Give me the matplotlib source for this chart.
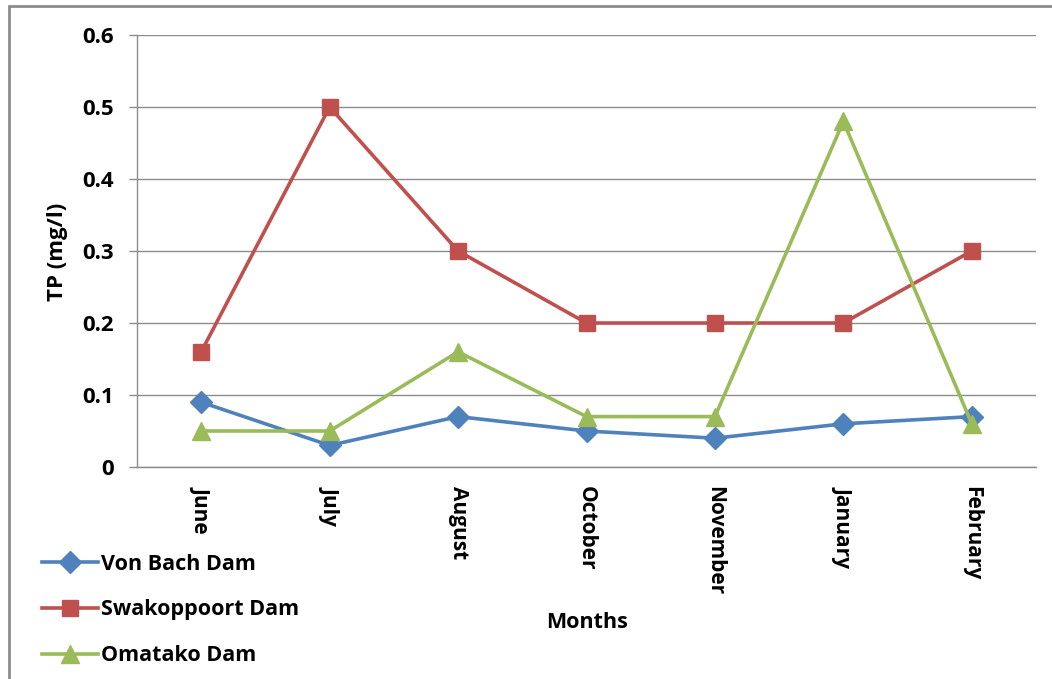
import matplotlib
matplotlib.use("Agg")
import matplotlib.pyplot as plt
from matplotlib.patches import Rectangle

months = ["June", "July", "August", "October", "November", "January", "February"]
von_bach = [0.09, 0.03, 0.07, 0.05, 0.04, 0.06, 0.07]
swakoppoort = [0.16, 0.50, 0.30, 0.20, 0.20, 0.20, 0.30]
omatako = [0.05, 0.05, 0.16, 0.07, 0.07, 0.48, 0.06]
y_ticks = [0, 0.1, 0.2, 0.3, 0.4, 0.5, 0.6]
y_tick_labels = ["0", "0.1", "0.2", "0.3", "0.4", "0.5", "0.6"]

plt.rcParams["font.family"] = ["Open Sans", "DejaVu Sans"]
plt.rcParams["font.weight"] = "bold"

W, H = 1052, 679
fig = plt.figure(figsize=(W / 100, H / 100), dpi=100)
fig.patch.set_facecolor("white")

# outer chart frame
fig.add_artist(Rectangle((9 / W, -0.01), 1.05, 1 - 6 / H + 0.01,
                         transform=fig.transFigure, fill=False,
                         edgecolor="#8c8c8c", linewidth=2))

ax = fig.add_axes([137 / W, 1 - 467 / H, (1036 - 137) / W, (467 - 35) / H])
x = list(range(len(months)))

series = [
    (von_bach, "Von Bach Dam", "#4F81BD", "D", 11),
    (swakoppoort, "Swakoppoort Dam", "#C0504D", "s", 12),
    (omatako, "Omatako Dam", "#9BBB59", "^", 13),
]
handles = []
for vals, name, color, marker, ms in series:
    h, = ax.plot(x, vals, color=color, linewidth=2.6, marker=marker,
                 markersize=ms, markerfacecolor=color, markeredgecolor=color,
                 label=name, zorder=3, clip_on=False)
    handles.append(h)

ax.set_xlim(-0.5, len(months) - 0.5)
ax.set_ylim(0, 0.6)
ax.set_yticks(y_ticks)
ax.set_yticklabels(y_tick_labels, fontsize=16, fontweight="bold")
ax.set_xticks(x)
ax.set_xticklabels(months, rotation=-90, fontsize=15, fontweight="bold",
                   va="top", ha="center")
ax.tick_params(axis="x", length=0, pad=14)
ax.tick_params(axis="y", length=6, width=1, color="#8c8c8c", pad=11)
ax.grid(axis="y", color="#8c8c8c", linewidth=1)
ax.set_axisbelow(True)
for side in ["top", "right"]:
    ax.spines[side].set_visible(False)
for side in ["left", "bottom"]:
    ax.spines[side].set_color("#8c8c8c")
    ax.spines[side].set_linewidth(1)

fig.text(58 / W, 1 - 252 / H, "TP (mg/l)", rotation=90, ha="center",
         va="center", fontsize=16, fontweight="bold")
fig.text(587 / W, 1 - 622 / H, "Months", ha="center", va="center",
         fontsize=15.5, fontweight="bold")

leg = fig.legend(handles=handles, loc="upper left",
                 bbox_to_anchor=(33 / W, 1 - 545 / H), frameon=False,
                 prop={"size": 15.5, "weight": "bold"}, handlelength=2.6,
                 handletextpad=0.15, labelspacing=1.15, borderaxespad=0)

fig.savefig("out.png", dpi=100, facecolor="white")
